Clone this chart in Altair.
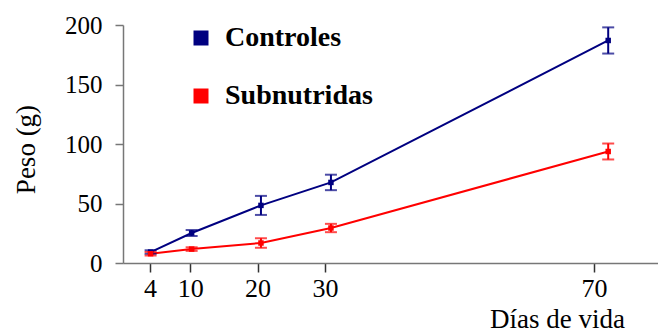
import altair as alt
import pandas as pd

series_names = ["Controles", "Subnutridas"]
days = [4.1, 10.2, 20.5, 30.9, 72.1]
controles = [9.2, 25.2, 48.4, 67.7, 187.0]
controles_err = [1.5, 2.5, 8.0, 6.5, 11.0]
subnutridas = [7.8, 11.7, 16.8, 29.4, 93.7]
subnutridas_err = [1.5, 1.5, 4.0, 3.5, 6.7]
x_ticks = [4, 10, 20, 30, 70]
y_ticks = [0, 50, 100, 150, 200]
colors = ["#000080", "#ff0000"]

rows = []
for name, vals, errs in [("Controles", controles, controles_err),
                         ("Subnutridas", subnutridas, subnutridas_err)]:
    for d, v, e in zip(days, vals, errs):
        rows.append({"serie": name, "dia": d, "peso": v, "lo": v - e, "hi": v + e})
df = pd.DataFrame(rows)

FONT = "Liberation Serif"

xenc = alt.X("dia:Q", scale=alt.Scale(domain=[0, 79.5], nice=False, zero=False),
             axis=alt.Axis(values=x_ticks, title="Días de vida", grid=False,
                           labelFontSize=26, titleFontSize=27, titleFontWeight="normal",
                           labelFont=FONT, titleFont=FONT, labelColor="black", titleColor="black",
                           domainColor="#777", domainWidth=1.5, tickColor="#333", tickWidth=1.5,
                           tickSize=9, labelPadding=3,
                           titleX=434, titleY=64, titleBaseline="alphabetic", titleAlign="center"))
yscale = alt.Scale(domain=[0, 200], nice=False)
yenc = alt.Y("peso:Q", scale=yscale,
             axis=alt.Axis(values=y_ticks, title="Peso (g)", grid=False,
                           labelFontSize=25, titleFontSize=27, titleFontWeight="normal",
                           labelFont=FONT, titleFont=FONT, labelColor="black", titleColor="black",
                           domainColor="#777", domainWidth=1.5, tickColor="#777", tickWidth=1.5,
                           tickSize=8, labelPadding=13,
                           titleX=-97, titleY=124, titleBaseline="middle", titleAlign="center"))
cscale = alt.Scale(domain=series_names, range=colors)
color_enc = alt.Color("serie:N", scale=cscale,
                      legend=alt.Legend(title=None, orient="none", legendX=64, legendY=-1,
                                        symbolType="square", symbolSize=225,
                                        symbolStrokeWidth=0, symbolOpacity=1,
                                        labelFont=FONT,
                                        labelFontSize=28, labelFontWeight="bold",
                                        labelColor="black", labelOffset=10,
                                        rowPadding=30, padding=0))

base = alt.Chart(df)
lines = base.mark_line(strokeWidth=2).encode(x=xenc, y=yenc, color=color_enc)
rules = base.mark_rule(strokeWidth=2).encode(
    x="dia:Q", y=alt.Y("lo:Q", scale=yscale), y2="hi:Q", color=color_enc)
cap_lo = base.mark_tick(orient="horizontal", size=12, thickness=2).encode(
    x="dia:Q", y=alt.Y("lo:Q", scale=yscale), color=color_enc)
cap_hi = base.mark_tick(orient="horizontal", size=12, thickness=2).encode(
    x="dia:Q", y=alt.Y("hi:Q", scale=yscale), color=color_enc)
points = base.mark_square(size=30, opacity=1, filled=True).encode(
    x="dia:Q", y="peso:Q", color=color_enc)

chart = alt.layer(lines, rules, cap_lo, cap_hi, points).properties(
    width=535, height=238,
    autosize=alt.AutoSizeParams(type="none"),
    padding={"left": 115, "top": 17, "right": 0, "bottom": 70},
).configure_view(stroke=None)

chart.save("out.html", embed_options={"renderer": "svg", "actions": False})
